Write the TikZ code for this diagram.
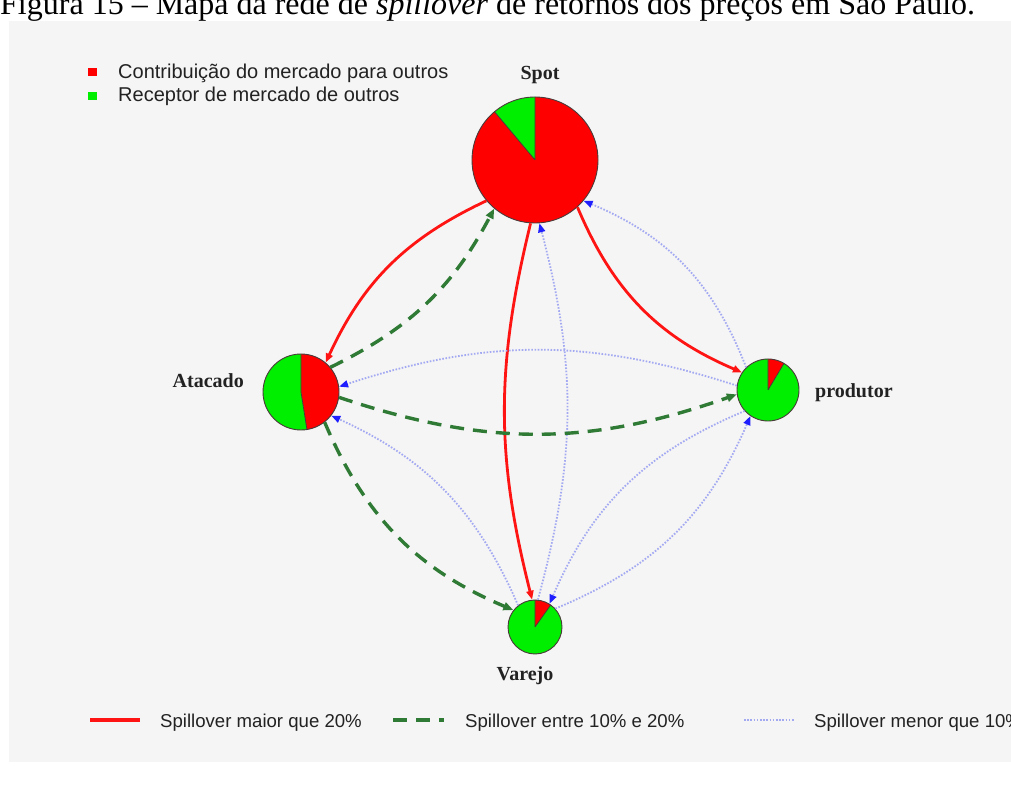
\documentclass[tikz,border=0pt]{standalone}
\usepackage{fontspec}
\setmainfont{Liberation Serif}
\newfontfamily\legendfont{Liberation Sans}
\usetikzlibrary{arrows.meta}

\definecolor{panelbg}{HTML}{F5F5F5}
\definecolor{piered}{HTML}{FF0000}
\definecolor{piegreen}{HTML}{00EE00}
\definecolor{pieline}{HTML}{4A3A3A}
\definecolor{strongred}{HTML}{FF1414}
\definecolor{middark}{HTML}{2F7A35}
\definecolor{weakblue}{HTML}{A4AAF2}
\definecolor{tipblue}{HTML}{1E1EFF}
\definecolor{inktext}{HTML}{222222}

% pie of one market: #1 centre, #2 radius, #3 angle where the red share ends
% (red runs clockwise from the top down to #3, green fills the rest)
\newcommand\drawmarketpie[3]{%
  \fill[piered] #1 -- ++(90:#2) arc[start angle=90,end angle=#3,radius=#2] -- cycle;
  \fill[piegreen] #1 -- ++(#3:#2) arc[start angle=#3,end angle=-270,radius=#2] -- cycle;
  \draw[pieline,line width=0.8pt] #1 -- ++(90:#2) #1 -- ++(#3:#2);
}

\tikzset{
  market/.style={circle, draw=pieline, line width=0.9pt, inner sep=0pt},
  mktlabel/.style={font=\fontsize{20}{24}\selectfont\bfseries, text=inktext, inner sep=0pt},
  strong/.style={draw=strongred, line width=2.8pt, -{Triangle[length=9pt,width=7pt]}},
  medium/.style={draw=middark, line width=3.4pt, dash pattern=on 14pt off 9pt,
                 -{Triangle[length=10pt,width=8pt]}},
  weak/.style={draw=weakblue, line width=1.8pt, dash pattern=on 1.6pt off 1.6pt,
               -{Triangle[length=9pt,width=7pt,color=tipblue]}},
  legtext/.style={font=\legendfont\fontsize{18.6}{22}\selectfont, text=inktext,
                  inner sep=0pt, anchor=base west},
  legsq/.style={minimum size=8.5pt, inner sep=0pt},
}

\begin{document}
\begin{tikzpicture}[x=1pt,y=1pt]
\useasboundingbox (0,0) rectangle (1011,787);

% caption above the panel
\node[anchor=base west, inner sep=0pt, font=\fontsize{32}{38}\selectfont] (caption)
  at (0,772) {Figura 15 – Mapa da rede de \textit{spillover} de retornos dos preços em São Paulo.};

% plot panel
\fill[panelbg] (9,25) rectangle (1011,766);

% market pies
\drawmarketpie{(535,627)}{63pt}{-230}
\drawmarketpie{(301,395)}{38pt}{-81}
\drawmarketpie{(768,397)}{31pt}{59}
\drawmarketpie{(535,160)}{27pt}{54.5}

\node[market, minimum size=126pt] (S) at (535,627) {};
\node[market, minimum size=76pt]  (A) at (301,395) {};
\node[market, minimum size=62pt]  (P) at (768,397) {};
\node[market, minimum size=54pt]  (V) at (535,160) {};

\node[mktlabel, anchor=base]      (spotlbl) at (540,707) {Spot};
\node[mktlabel, anchor=base east] (atalbl)  at (244,399) {Atacado};
\node[mktlabel, anchor=base west] (prodlbl) at (815,389) {produtor};
\node[mktlabel, anchor=base]      (varlbl)  at (525,107) {Varejo};

% spillover connections
\draw[strong] (S.220) to[bend right=20] (A.50);
\draw[medium] (A.40)  to[bend right=18] (S.230);
\draw[strong] (S.266) to[bend right=14] (V.96);
\draw[weak]   (V.84)  to[bend right=15] (S.274);
\draw[strong] (S.312) to[bend right=22] (P.146);
\draw[weak]   (P.134) to[bend right=23] (S.320);
\draw[weak]   (P.172) to[bend right=18] (A.8);
\draw[medium] (A.352) to[bend right=19] (P.188);
\draw[medium] (A.308) to[bend right=22] (V.142);
\draw[weak]   (V.128) to[bend right=21] (A.322);
\draw[weak]   (P.222) to[bend right=22] (V.58);
\draw[weak]   (V.42)  to[bend right=22] (P.236);

% legend of pie colours
\node[legsq, fill=piered]   (sqred)   at (92.5,715) {};
\node[legsq, fill=piegreen] (sqgreen) at (92.5,691) {};
\node[legtext, font=\legendfont\fontsize{20}{24}\selectfont] (legred)   at (118,708) {Contribuição do mercado para outros};
\node[legtext, font=\legendfont\fontsize{20}{24}\selectfont] (leggreen) at (118,685) {Receptor de mercado de outros};

% legend of line styles
\coordinate (k1a) at (90,67);  \coordinate (k1b) at (140,67);
\coordinate (k2a) at (393,67); \coordinate (k2b) at (444,67);
\coordinate (k3a) at (744,67); \coordinate (k3b) at (794,67);
\draw[strong, -, line width=4pt] (k1a) -- (k1b);
\draw[medium, -] (k2a) -- (k2b);
\draw[weak, -]   (k3a) -- (k3b);
\node[legtext] (key1) at (160,60) {Spillover maior que 20\%};
\node[legtext] (key2) at (465,60) {Spillover entre 10\% e 20\%};
\node[legtext] (key3) at (814,60) {Spillover menor que 10\%};
\end{tikzpicture}
\end{document}
